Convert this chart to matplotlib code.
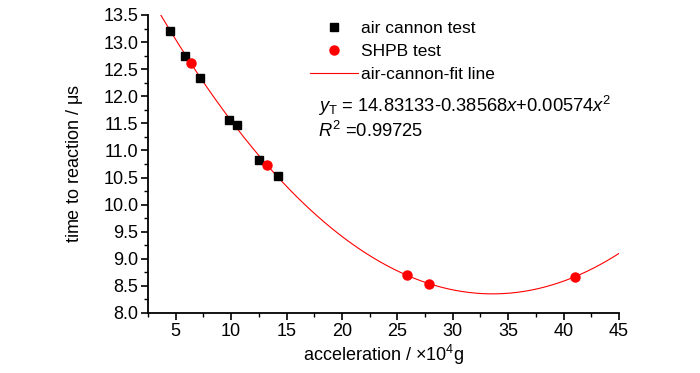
import numpy as np
import matplotlib
matplotlib.use("Agg")
import matplotlib.pyplot as plt
from matplotlib.ticker import MultipleLocator, FormatStrFormatter

# air cannon test points (x: acceleration / 1e4 g, y: time to reaction / us)
air_x = [4.5, 5.8, 7.2, 9.8, 10.5, 12.5, 14.2]
air_y = [13.21, 12.74, 12.33, 11.57, 11.47, 10.82, 10.53]

# SHPB test points
shpb_x = [6.4, 13.2, 25.9, 27.9, 41.0]
shpb_y = [12.61, 10.73, 8.71, 8.54, 8.67]

# quadratic fit from the chart annotation: y = c0 + c1*x + c2*x^2
fit_coef = [14.83133, -0.38568, 0.00574]
fit_range = (3.65, 45.0)

plt.rcParams['font.family'] = ['Liberation Sans', 'DejaVu Sans']
plt.rcParams['mathtext.fontset'] = 'custom'
plt.rcParams['mathtext.rm'] = 'Liberation Sans'
plt.rcParams['mathtext.it'] = 'Liberation Sans:italic'

fig = plt.figure(figsize=(7, 3.73), dpi=100)
ax = fig.add_axes([0.2114, 0.1609, 0.6729, 0.7989])

xf = np.linspace(fit_range[0], fit_range[1], 200)
yf = np.polyval(fit_coef[::-1], xf)

ax.plot(air_x, air_y, 's', color='black', markersize=5.5, label='air cannon test', zorder=3)
ax.plot(shpb_x, shpb_y, 'o', color='red', markersize=6.5, label='SHPB test', zorder=3)
ax.plot(xf, yf, '-', color='red', linewidth=0.8, label='air-cannon-fit line', zorder=2)

ax.set_xlim(2.5, 45)
ax.set_ylim(8.0, 13.5)
ax.xaxis.set_major_locator(MultipleLocator(5))
ax.xaxis.set_minor_locator(MultipleLocator(2.5))
ax.yaxis.set_major_locator(MultipleLocator(0.5))
ax.yaxis.set_minor_locator(MultipleLocator(0.25))
ax.yaxis.set_major_formatter(FormatStrFormatter('%.1f'))

for side in ['top', 'right']:
    ax.spines[side].set_visible(False)
for side in ['left', 'bottom']:
    ax.spines[side].set_linewidth(1.3)
ax.tick_params(which='major', direction='out', length=5, width=1.2, labelsize=13, pad=2)
ax.tick_params(which='minor', direction='out', length=3, width=1.0)

ax.set_xlabel(r'acceleration / $\times$10$^4$g', fontsize=13, labelpad=2)
ax.set_ylabel(r'time to reaction / $\mathrm{\mu}$s', fontsize=13, labelpad=13)

ax.legend(loc='upper left', bbox_to_anchor=(0.33, 1.002), frameon=False, fontsize=12.5,
          handlelength=2.75, handletextpad=0.15, labelspacing=0.45, borderaxespad=0)

ax.text(0.362, 0.695, r'$y_\mathrm{T}$ = 14.83133-0.38568$x$+0.00574$x^2$',
        transform=ax.transAxes, fontsize=13.2, va='center')
ax.text(0.362, 0.612, r'$R^2$ =0.99725', transform=ax.transAxes, fontsize=13.2, va='center')

fig.savefig('out.png', dpi=100)
